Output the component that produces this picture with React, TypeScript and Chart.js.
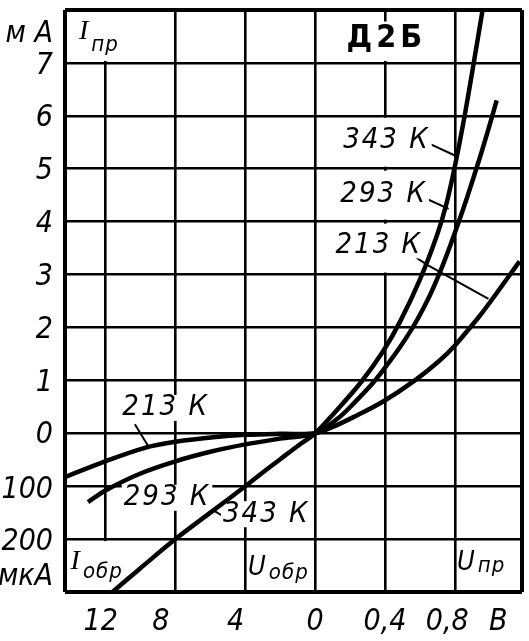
import React, { useEffect, useRef } from 'react';
import { Chart, registerables } from 'chart.js';

Chart.register(...registerables);

// Forward branch: U_пр in volts, I_пр in mA
const fwdV343 = [0, 0.111, 0.261, 0.389, 0.486, 0.6, 0.697, 0.75, 0.8, 0.85, 0.9, 0.961];
const fwdI343 = [0, 0.39, 0.96, 1.55, 2.11, 2.91, 3.74, 4.32, 5.05, 5.9, 6.85, 8.05];
const fwdV293 = [0, 0.133, 0.222, 0.328, 0.4, 0.486, 0.571, 0.657, 0.714, 0.76, 0.818, 0.872, 0.937, 0.991, 1.039];
const fwdI293 = [0, 0.29, 0.57, 0.94, 1.24, 1.63, 2.07, 2.61, 3.04, 3.43, 3.96, 4.48, 5.15, 5.74, 6.29];
const fwdV213 = [0, 0.094, 0.222, 0.389, 0.571, 0.714, 0.8, 0.93, 0.984, 1.17];
const fwdI213 = [0, 0.11, 0.31, 0.6, 1.0, 1.38, 1.66, 2.17, 2.4, 3.25];

// Reverse branch: U_обр in volts, I_обр in µA (magnitudes)
const revV343 = [1, 2, 3, 4, 6, 8, 10, 11.6];
const revI343 = [24, 49, 74, 100, 150, 200, 255, 300];
const revV293 = [2, 4, 6, 8, 10, 12, 13];
const revI293 = [10, 21, 35, 53, 76, 108, 130];
const revV213 = [2, 4, 5.7, 8, 9.7, 12.1, 14.4];
const revI213 = [1, 3, 7, 16, 27, 54, 84];

// Scale steps: one grid cell = 4 V reverse, 0.4 V forward, 1 mA forward, 100 µA reverse
const REV_V_STEP = 4;
const FWD_V_STEP = 0.4;
const REV_I_STEP = 100;

const xGridUnits = [-3, -2, -1, 0, 1, 2];
const xTickLabels = ['12', '8', '4', '0', '0,4', '0,8', 'В'];
const xTickAt = [-3.07, -2.21, -1.14, 0, 1, 1.89, 2.62];
const yGridUnits = [-3, -2, -1, 0, 1, 2, 3, 4, 5, 6, 7, 8];
const yTickLabels = ['мкА', '200', '100', '0', '1', '2', '3', '4', '5', '6', '7', 'м А'];
const yTickAt = [-2.72, -2.05, -1.07, -0.03, 0.95, 1.95, 2.95, 3.95, 4.95, 5.95, 6.93, 7.55];

const X_MIN = -3.58, X_MAX = 2.96, Y_MIN = -3, Y_MAX = 8;

const FONT = '"Liberation Sans Narrow", "DejaVu Sans Condensed", "Liberation Sans", sans-serif';
const SERIF = '"Liberation Serif", "DejaVu Serif", serif';

const curveLabels = [
  { text: '343 К', x: 1.02, y: 5.53 },
  { text: '293 К', x: 0.98, y: 4.51 },
  { text: '213 К', x: 0.91, y: 3.55 },
  { text: '213 К', x: -2.14, y: 0.48 },
  { text: '293 К', x: -2.12, y: -1.22 },
  { text: '343 К', x: -0.7, y: -1.53 },
];
const leaders = [
  [[1.64, 5.47], [2.0, 5.25]],
  [[1.53, 4.47], [1.91, 4.24]],
  [[1.4, 3.36], [1.61, 3.18], [2.48, 2.54]],
  [[-2.58, 0.17], [-2.39, -0.24]],
  [[-2.66, -0.97], [-2.52, -1.2]],
  [[-1.48, -1.44], [-1.25, -1.62]],
];
const axisNames = [
  { main: 'I', sub: 'пр', x: -3.38, y: 7.45, dy: 12, serif: true },
  { main: 'I', sub: 'обр', x: -3.5, y: -2.56, dy: 9, serif: true },
  { main: 'U', sub: 'обр', x: -0.96, y: -2.67, dy: 4, serif: false },
  { main: 'U', sub: 'пр', x: 2.03, y: -2.59, dy: 2, serif: false },
];
const title = { text: 'Д2Б', x: 0.99, y: 7.45 };
const gridGaps = [
  { x: 1, y0: 3, y1: 4 }, { x: 1, y0: 4, y1: 5 }, { x: 1, y0: 5, y1: 6 },
  { x: 1, y0: 7, y1: 7.82 }, { x: -3, y0: 7, y1: 8 }, { x: -3, y0: -3, y1: -2 },
];

function buildCurve(rv: number[], ri: number[], fv: number[], fi: number[]) {
  const pts: { x: number; y: number }[] = [];
  for (let i = rv.length - 1; i >= 0; i--) pts.push({ x: -rv[i] / REV_V_STEP, y: -ri[i] / REV_I_STEP });
  pts.push({ x: 0, y: 0 });
  for (let i = 0; i < fv.length; i++) if (fv[i] > 0) pts.push({ x: fv[i] / FWD_V_STEP, y: fi[i] });
  return pts;
}

const near = (a: number, b: number) => Math.abs(a - b) < 1e-6;

const annotate = {
  id: 'annotate',
  beforeDatasetsDraw(chart: any) {
    const ctx: CanvasRenderingContext2D = chart.ctx;
    const X = (u: number) => chart.scales.x.getPixelForValue(u);
    const Y = (u: number) => chart.scales.y.getPixelForValue(u);
    ctx.save();
    ctx.fillStyle = '#fff';
    for (const g of gridGaps) {
      const x = X(g.x);
      const top = Y(g.y1), bot = Y(g.y0);
      ctx.fillRect(x - 3, top + 2, 6, bot - top - 4);
    }
    ctx.strokeStyle = '#000';
    ctx.lineWidth = 2;
    for (const l of leaders) {
      ctx.beginPath();
      l.forEach((p, i) => (i === 0 ? ctx.moveTo(X(p[0]), Y(p[1])) : ctx.lineTo(X(p[0]), Y(p[1]))));
      ctx.stroke();
    }
    ctx.textAlign = 'center';
    ctx.textBaseline = 'middle';
    ctx.font = `italic 29px ${FONT}`;
    (ctx as any).letterSpacing = '2px';
    for (const l of curveLabels) {
      const w = ctx.measureText(l.text).width;
      ctx.fillStyle = '#fff';
      ctx.fillRect(X(l.x) - w / 2 - 2, Y(l.y) - 13, w + 4, 26);
      ctx.fillStyle = '#000';
      ctx.fillText(l.text, X(l.x), Y(l.y));
    }
    ctx.font = `bold 32px ${FONT}`;
    (ctx as any).letterSpacing = '4px';
    ctx.fillText(title.text, X(title.x) + 2, Y(title.y));
    (ctx as any).letterSpacing = '1px';
    ctx.textAlign = 'left';
    ctx.textBaseline = 'alphabetic';
    for (const a of axisNames) {
      const x = X(a.x), y = Y(a.y);
      ctx.font = a.serif ? `italic 28px ${SERIF}` : `italic 27px ${FONT}`;
      ctx.fillText(a.main, x, y);
      const w = ctx.measureText(a.main).width;
      ctx.font = `italic 22px ${FONT}`;
      ctx.fillText(a.sub, x + w + 2, y + a.dy);
    }
    ctx.restore();
  },
};

function gridStyle(grid: number[], min: number, max: number) {
  const isGrid = (v: number) => grid.some((g) => near(g, v)) || near(v, min) || near(v, max);
  return {
    drawTicks: false,
    tickLength: 0,
    color: (c: any) => (isGrid(c.tick.value) ? '#000' : 'rgba(0,0,0,0)'),
    lineWidth: (c: any) => (near(c.tick.value, min) || near(c.tick.value, max) ? 4 : 2.6),
  };
}

export default function App() {
  const ref = useRef<HTMLCanvasElement>(null);
  useEffect(() => {
    document.body.style.margin = '0';
    document.body.style.overflow = 'hidden';
    const mk = (data: any) => ({
      data,
      borderColor: '#000',
      borderWidth: 4.5,
      pointRadius: 0,
      tension: 0.35,
      fill: false,
    });
    const chart = new Chart(ref.current!, {
      type: 'line',
      data: {
        datasets: [
          { label: '343 К', ...mk(buildCurve(revV343, revI343, fwdV343, fwdI343)) },
          { label: '293 К', ...mk(buildCurve(revV293, revI293, fwdV293, fwdI293)) },
          { label: '213 К', ...mk(buildCurve(revV213, revI213, fwdV213, fwdI213)) },
        ],
      },
      options: {
        animation: false,
        responsive: false,
        maintainAspectRatio: false,
        layout: { padding: { left: 0, right: 7, top: 10, bottom: 0 } },
        plugins: { legend: { display: false }, tooltip: { enabled: false } },
        scales: {
          x: {
            type: 'linear',
            min: X_MIN,
            max: X_MAX,
            border: { display: false },
            grid: gridStyle(xGridUnits, X_MIN, X_MAX),
            afterBuildTicks: (s: any) => {
              const vals = Array.from(new Set([X_MIN, ...xGridUnits, ...xTickAt, X_MAX])).sort((a, b) => a - b);
              s.ticks = vals.map((v) => ({ value: v }));
            },
            afterFit: (s: any) => {
              s.height = 49;
              s.paddingLeft = 0;
              s.paddingRight = 0;
            },
            ticks: {
              autoSkip: false,
              maxRotation: 0,
              padding: 12,
              color: '#000',
              font: { family: FONT, size: 30, style: 'italic' },
              callback: (v: any) => {
                const i = xTickAt.findIndex((t) => near(t, Number(v)));
                return i >= 0 ? xTickLabels[i] : '';
              },
            },
          },
          y: {
            type: 'linear',
            min: Y_MIN,
            max: Y_MAX,
            border: { display: false },
            grid: gridStyle(yGridUnits, Y_MIN, Y_MAX),
            afterBuildTicks: (s: any) => {
              const vals = Array.from(new Set([...yGridUnits, ...yTickAt])).sort((a, b) => a - b);
              s.ticks = vals.map((v) => ({ value: v }));
            },
            afterFit: (s: any) => {
              s.width = 65;
              s.paddingTop = 0;
              s.paddingBottom = 0;
            },
            ticks: {
              autoSkip: false,
              padding: 12,
              color: '#000',
              font: { family: FONT, size: 30, style: 'italic' },
              callback: (v: any) => {
                const i = yTickAt.findIndex((t) => near(t, Number(v)));
                return i >= 0 ? yTickLabels[i] : '';
              },
            },
          },
        },
      },
      plugins: [annotate],
    });
    return () => chart.destroy();
  }, []);
  return (
    <div style={{ width: 529, height: 641 }}>
      <canvas ref={ref} width={529} height={641} style={{ display: 'block' }} />
    </div>
  );
}
